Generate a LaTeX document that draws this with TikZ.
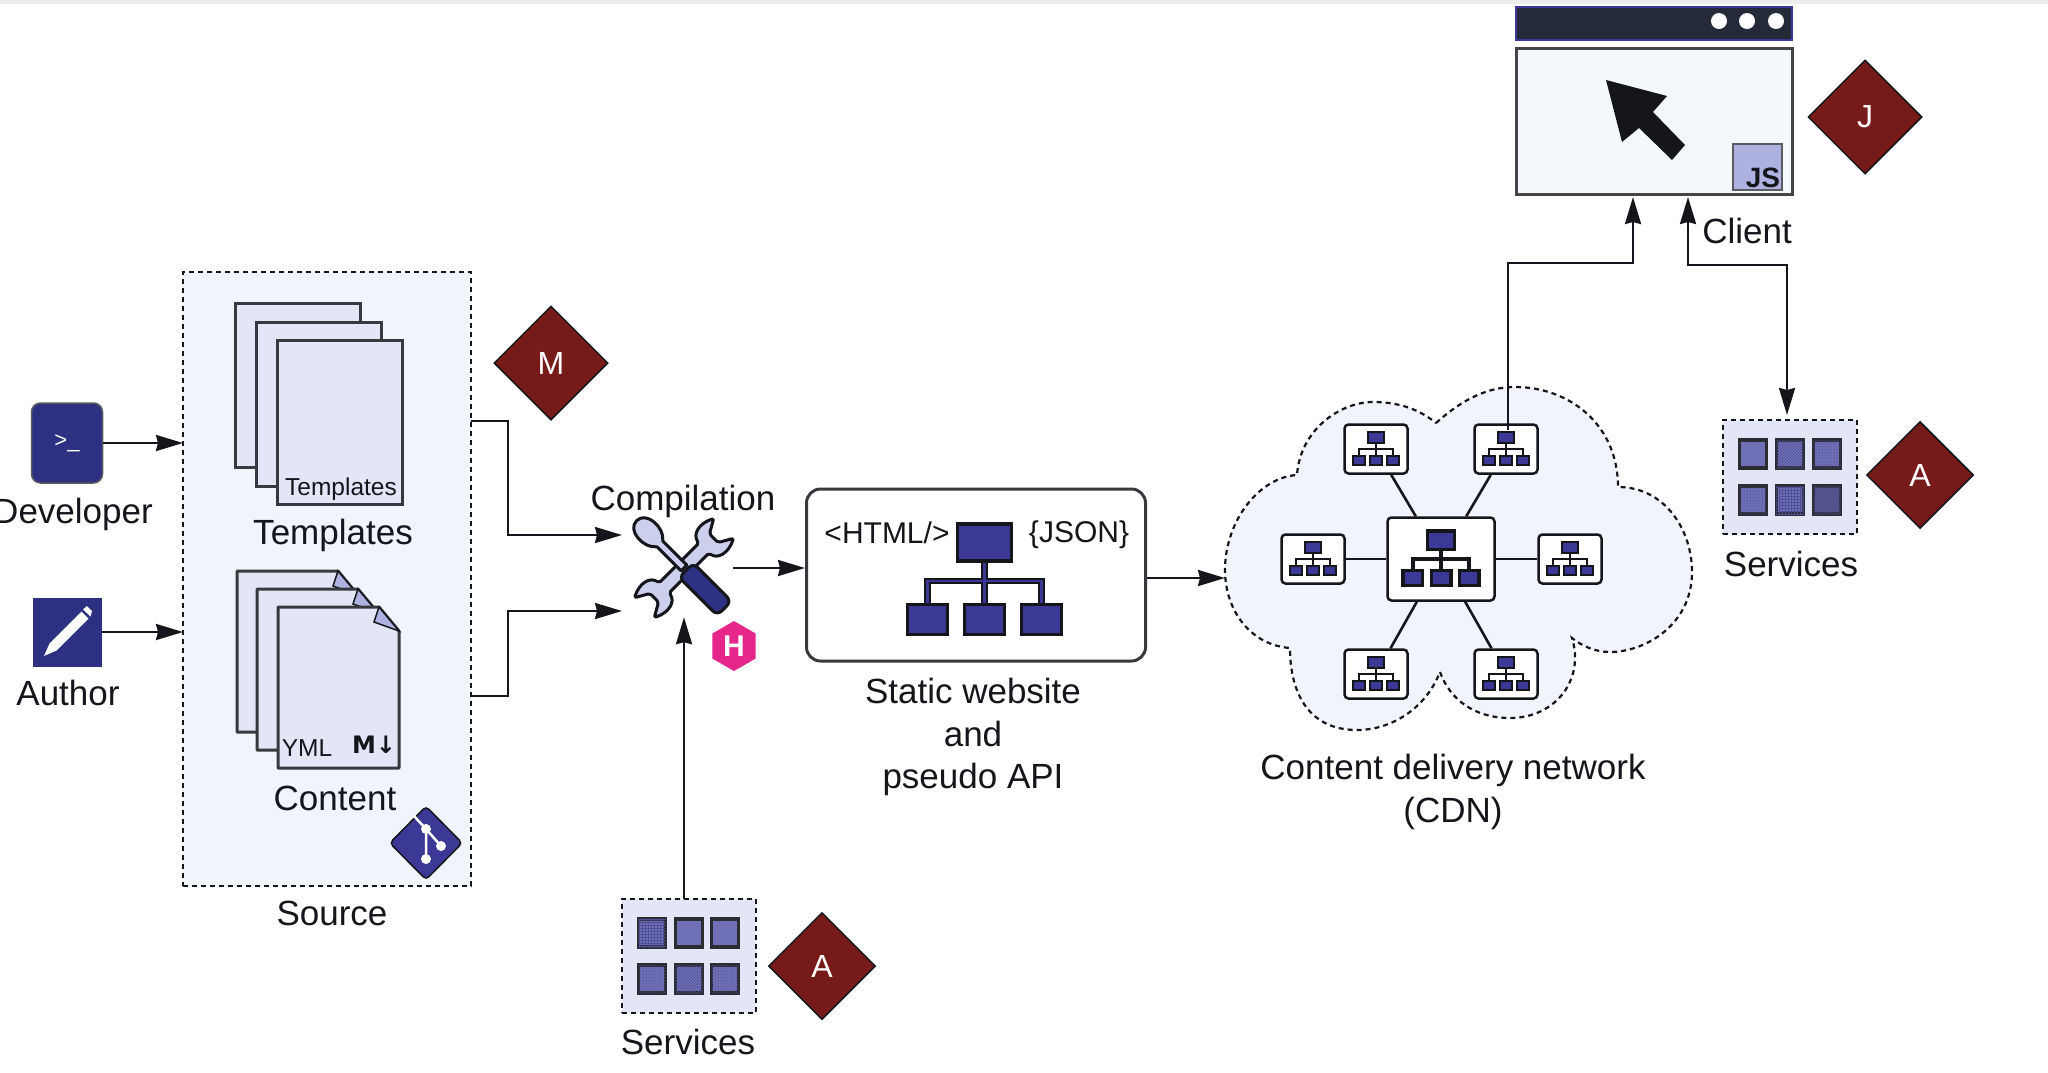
\documentclass[tikz,border=0pt]{standalone}
\usepackage{fontspec}
\setmainfont{Liberation Sans}
\newfontfamily\symfont{DejaVu Sans}
\usetikzlibrary{positioning,calc,arrows.meta,shapes.geometric,patterns}
\definecolor{ink}{HTML}{14161C}
\definecolor{navy}{HTML}{2E3082}
\definecolor{indigo}{HTML}{3B3896}
\definecolor{paper}{HTML}{E3E6F6}
\definecolor{haze}{HTML}{F2F4FB}
\definecolor{maroon}{HTML}{771B1A}
\definecolor{lilac}{HTML}{AEB2E0}
\definecolor{tile}{HTML}{6F70B6}
\definecolor{tiledark}{HTML}{4F5098}
\definecolor{steel}{HTML}{CCD0EC}
\definecolor{pink}{HTML}{E6268A}
\definecolor{barfill}{HTML}{252A38}
\definecolor{winfill}{HTML}{F4F7FC}
\tikzset{>=Stealth,
  flowtip/.tip={Stealth[length=27pt,width=16pt,inset=2pt]},
  lbl/.style={font=\fontsize{35}{42.5}\selectfont,text=ink,inner sep=0pt,align=center},
  small/.style={font=\fontsize{24.5}{28}\selectfont,text=ink,inner sep=0pt},
  code/.style={font=\fontsize{30}{34}\selectfont,text=ink,inner sep=0pt},
  link/.style={draw=ink,line width=2.4pt,-flowtip},
  spoke/.style={draw=ink,line width=2.6pt},
  zone/.style={draw=ink,line width=2.2pt,dash pattern=on 5pt off 4pt},
  badge/.style={diamond,draw=ink,line width=1.5pt,fill=maroon,text=white,inner sep=0pt,
    minimum width=114pt,minimum height=114pt,font=\fontsize{32}{36}\selectfont},
  abadge/.style={badge,minimum width=107pt,minimum height=107pt},
  svcbox/.style={rectangle,zone,fill=paper,inner sep=0pt,outer sep=0pt,minimum width=134pt,minimum height=114pt},
  tile/.style={rectangle,draw=ink!90,line width=3.5pt,fill=tile,inner sep=0pt,minimum width=27pt,minimum height=28pt},
  dots/.style={postaction={pattern=crosshatch dots,pattern color=tiledark}},
  hatch/.style={postaction={pattern=north east lines,pattern color=tiledark}},
  grid/.style={postaction={pattern=grid,pattern color=tiledark}},
  sheet/.style={draw=ink!85,line width=3pt,fill=paper},
  hubbox/.style={rectangle,draw=ink,line width=2.5pt,fill=white,rounded corners=4pt,inner sep=0pt,
    minimum width=107pt,minimum height=83pt},
  leaf/.style={hubbox,minimum width=63pt,minimum height=49pt},
  maplink/.style={draw=ink},
  sitemap/.pic={
    \draw[maplink] (0,-6) -- (0,7) (-17,7) -- (-17,0) -- (17,0) -- (17,7);
    \draw[draw=ink,fill=indigo] (-8,-17) rectangle (8,-6);
    \draw[draw=ink,fill=indigo] (-23,7) rectangle (-11,16);
    \draw[draw=ink,fill=indigo] (-6,7) rectangle (6,16);
    \draw[draw=ink,fill=indigo] (11,7) rectangle (23,16);
  }
}
\newcommand{\tplsheet}[2]{\draw[sheet] (#1,#2) rectangle ++(125,164);}
\newcommand{\cntsheet}[2]{
  \draw[sheet,line join=bevel] (#1,#2) -- ++(101,0) -- ++(20,24) -- ++(0,137) -- ++(-121,0) -- cycle;
  \draw[draw=ink,line width=1.5pt,fill=lilac] (#1+101,#2) -- (#1+96,#2+15) -- (#1+121,#2+24) -- cycle;
}
\begin{document}
\begin{tikzpicture}[x=1pt,y=-1pt]
\useasboundingbox (0,0) rectangle (2048,1072);
\fill[black!7] (0,0) rectangle (2048,4);
% source
\node[rectangle,zone,fill=haze,inner sep=0pt,outer sep=0pt,minimum width=288pt,minimum height=614pt] (src) at (327,579) {};
\tplsheet{235}{303}
\tplsheet{256}{322}
\tplsheet{277}{340}
\node[small] (tpltag) at (341,489) {Templates};
\node[lbl] (tpl) at (333,535) {Templates};
\cntsheet{237}{571}
\cntsheet{257}{589}
\cntsheet{278}{607}
\node[small] (yml) at (307,748) {YML};
\node[inner sep=0pt,text=ink,font=\symfont\bfseries\fontsize{24}{26}\selectfont] (mdown) at (374,745) {M↓};
\node[lbl] (cnt) at (335,798) {Content};
\node[lbl] (srclbl) at (332,913) {Source};
\node[diamond,draw=ink,line width=1.5pt,fill=indigo,rounded corners=4pt,inner sep=0pt,minimum width=73pt,minimum height=74pt] (git) at (426,843) {};
\draw[white,line width=2.5pt] (414,816) -- (426,829) -- (441,846) (426,829) -- (426,859);
\fill[white] (426,829) circle[radius=5pt] (441,846) circle[radius=5pt] (426,859) circle[radius=5pt];
\node[badge] (mbadge) at (551,363) {M};
% people
\node[rectangle,draw=ink!70,line width=1.5pt,fill=navy,rounded corners=9pt,inner sep=0pt,text=white,
  minimum width=71pt,minimum height=80pt,font=\fontsize{22}{24}\selectfont] (dev) at (67,443) {>\_};
\node[lbl] (devlbl) at (73,514) {Developer};
\node[rectangle,fill=navy,inner sep=0pt,minimum width=69pt,minimum height=69pt] (auth) at (67,632) {};
\fill[white] (44,656) -- (49.5,643.5) -- (81.5,611.5) -- (88.5,618.5) -- (56.5,650.5) -- cycle;
\fill[white] (83,609.5) -- (87,606) -- (92,611) -- (90.5,616.5) -- cycle;
\node[lbl] (authlbl) at (68,693) {Author};
\draw[link] (dev.east) -- (dev.east -| src.west);
\draw[link] (auth.east) -- (auth.east -| src.west);
% compilation
\node[lbl] (comp) at (683,501) {Compilation};
\node[rectangle,inner sep=0pt,minimum width=98pt,minimum height=98pt] (tools) at (684,568) {};
\begin{scope}[shift={(tools.center)},rotate=45,draw=ink,line width=3pt,fill=steel,rounded corners=2pt,line join=round]
\filldraw (28,-7) .. controls (30,-18) and (42,-21) .. (56,-14) -- (42,-6) -- (42,6) -- (56,14)
  .. controls (42,21) and (30,18) .. (28,7) -- (-28,7) .. controls (-30,18) and (-42,21) .. (-56,14)
  -- (-42,6) -- (-42,-6) -- (-56,-14) .. controls (-42,-21) and (-30,-18) .. (-28,-7) -- cycle;
\end{scope}
\begin{scope}[shift={(tools.center)},rotate=-45,draw=ink,line width=3pt,fill=steel,line join=round]
\filldraw (0,-4) -- (-34,-4) .. controls (-42,-15) and (-67,-14) .. (-67,0)
  .. controls (-67,14) and (-42,15) .. (-34,4) -- (0,4) -- cycle;
\filldraw[fill=navy,rounded corners=6pt] (3,-10) rectangle (57,10);
\end{scope}
\node[regular polygon,regular polygon sides=6,shape border rotate=30,fill=pink,text=white,inner sep=0pt,
  minimum size=50pt,font=\bfseries\fontsize{30}{32}\selectfont] (hugo) at (734,646) {H};
\coordinate (outtpl) at (471,421);
\coordinate (intpl) at (622,535);
\coordinate (outcnt) at (471,696);
\coordinate (incnt) at (622,611);
\draw[link] (outtpl) -- ++(37,0) |- (intpl);
\draw[link] (outcnt) -- ++(37,0) |- (incnt);
% services below
\node[svcbox] (svca) at (689,956) {};
\node[tile,grid] (a1) at (652,933) {};
\node[tile] (a2) at (689,933) {};
\node[tile] (a3) at (725,933) {};
\node[tile,dots] (a4) at (652,979) {};
\node[tile,hatch] (a5) at (689,979) {};
\node[tile,dots] (a6) at (725,979) {};
\node[lbl] (svcalbl) at (688,1042) {Services};
\node[abadge] (abadgea) at (822,966) {A};
\draw[link] (svca.north -| tools.south) -- (tools.south);
% site
\node[rectangle,draw=ink!85,line width=3pt,fill=white,rounded corners=14pt,inner sep=0pt,minimum width=339pt,minimum height=172pt] (site) at (976,575) {};
\node[code] (html) at (887,533) {<HTML/>};
\node[code] (json) at (1079,535) {\{JSON\}};
\pic[scale=3.35,line width=3.5pt,maplink/.style={draw=ink,double=indigo,double distance=2.5pt,line width=2pt}] at (984.5,581) {sitemap};
\node[lbl] (sitelbl) at (973,737) {Static website\\and\\pseudo API};
\draw[link] (tools.east) -- (tools.east -| site.west);
% cdn
\path[fill=haze,zone] (1436,423) .. controls (1465,397) and (1490,387) .. (1515,387)
  .. controls (1570,387) and (1618,425) .. (1618,487)
  .. controls (1665,487) and (1692,530) .. (1692,572)
  .. controls (1692,625) and (1645,652) .. (1610,652)
  .. controls (1595,652) and (1582,646) .. (1572,638)
  .. controls (1585,680) and (1555,718) .. (1510,718)
  .. controls (1475,718) and (1450,700) .. (1440,672)
  .. controls (1425,710) and (1390,730) .. (1357,730)
  .. controls (1310,730) and (1290,695) .. (1290,648)
  .. controls (1250,645) and (1225,610) .. (1225,570)
  .. controls (1225,520) and (1260,477) .. (1297,475)
  .. controls (1300,430) and (1340,402) .. (1373,402)
  .. controls (1400,402) and (1420,410) .. (1436,423) -- cycle;
\node[hubbox] (hub) at (1441,559) {};
\node[leaf] (ntl) at (1376,449) {};
\node[leaf] (ntr) at (1506,449) {};
\node[leaf] (nl) at (1313,559) {};
\node[leaf] (nr) at (1570,559) {};
\node[leaf] (nbl) at (1376,674) {};
\node[leaf] (nbr) at (1506,674) {};
\draw[spoke] (hub) -- (ntl);
\draw[spoke] (hub) -- (ntr);
\draw[spoke] (hub) -- (nl);
\draw[spoke] (hub) -- (nr);
\draw[spoke] (hub) -- (nbl);
\draw[spoke] (hub) -- (nbr);
\pic[scale=1.65,line width=3.2pt] at (hub) {sitemap};
\pic[line width=2.6pt] at (ntl) {sitemap};
\pic[line width=2.6pt] at (ntr) {sitemap};
\pic[line width=2.6pt] at (nl) {sitemap};
\pic[line width=2.6pt] at (nr) {sitemap};
\pic[line width=2.6pt] at (nbl) {sitemap};
\pic[line width=2.6pt] at (nbr) {sitemap};
\node[lbl] (cdnlbl) at (1453,792) {Content delivery network\\(CDN)};
\coordinate (cloudw) at (1225,578);
\draw[link] (site.east |- cloudw) -- (cloudw);
% client
\node[rectangle,draw=indigo,line width=2pt,fill=barfill,inner sep=0pt,minimum width=276pt,minimum height=33pt] (bar) at (1653.5,23) {};
\fill[white] (1719,21) circle[radius=8pt] (1747,21) circle[radius=8pt] (1776,21) circle[radius=8pt];
\node[rectangle,draw=ink!80,line width=3pt,fill=winfill,inner sep=0pt,minimum width=276pt,minimum height=146pt] (win) at (1654,121) {};
\fill[ink] (1606,80) -- (1667,96) -- (1653,112) -- (1685,145) -- (1672,160) -- (1639,128) -- (1622,142) -- cycle;
\node[rectangle,draw=ink!70,line width=1.5pt,fill=lilac,inner sep=0pt,minimum width=49pt,minimum height=46pt] (jsbox) at (1757.5,167) {};
\node[inner sep=0pt,text=ink,font=\bfseries\fontsize{28}{30}\selectfont] (js) at (1763,178) {JS};
\node[lbl] (clientlbl) at (1747,231) {Client};
\node[badge] (jbadge) at (1865,117) {J};
\coordinate (cdnout) at (1508,430);
\coordinate (cin) at (1633,197);
\coordinate (svcin) at (1688,197);
\coordinate (svcout) at (1787,415);
\draw[link] (cdnout) -- ++(0,-167) -| (cin);
\draw[link,flowtip-flowtip] (svcin) -- ++(0,68) -| (svcout);
% services right
\node[svcbox] (svcb) at (1790,477) {};
\node[tile] (b1) at (1753,454) {};
\node[tile,hatch] (b2) at (1790,454) {};
\node[tile,dots] (b3) at (1827,454) {};
\node[tile,dots] (b4) at (1753,500) {};
\node[tile,grid] (b5) at (1790,500) {};
\node[tile,hatch,fill=tile!70!ink] (b6) at (1827,500) {};
\node[lbl] (svcblbl) at (1791,564) {Services};
\node[abadge] (abadgeb) at (1920,475) {A};
\end{tikzpicture}
\end{document}
